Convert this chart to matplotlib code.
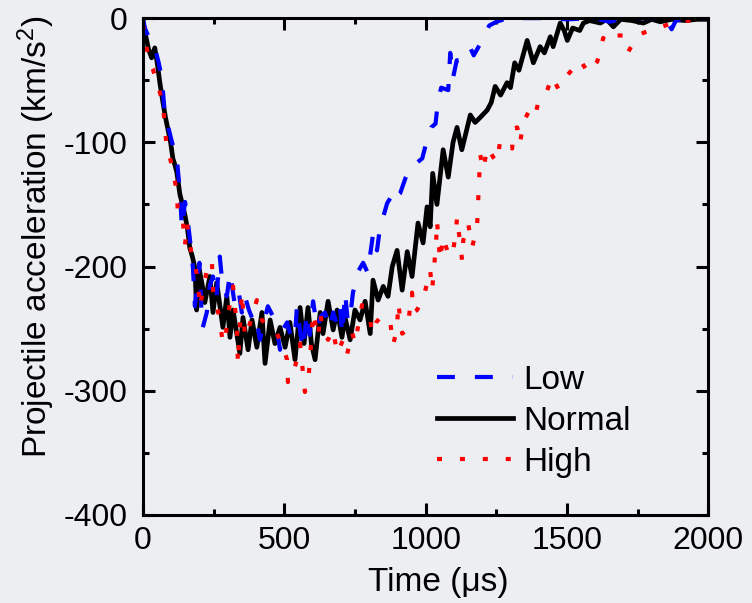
import matplotlib
matplotlib.use("Agg")
import matplotlib.pyplot as plt
from matplotlib.ticker import MultipleLocator

plt.rcParams['font.family'] = ['Liberation Sans', 'DejaVu Sans']
plt.rcParams['mathtext.fontset'] = 'custom'
plt.rcParams['mathtext.rm'] = 'Liberation Sans'
plt.rcParams['mathtext.default'] = 'regular'
plt.rcParams['axes.unicode_minus'] = False

# Normal charge
t_normal = [0, 7, 20, 31, 42, 50, 60, 71, 80, 89, 98, 106, 113, 120, 131, 140, 149, 158,
            166, 175, 184, 190, 200, 210, 219, 237, 248, 261, 283, 297, 308, 319, 343, 354,
            372, 386, 403, 421, 432, 450, 467, 485, 503, 520, 538, 556, 570, 584, 596, 609,
            627, 637, 655, 673, 687, 704, 715, 733, 750, 768, 786, 804, 814, 832, 850, 867,
            882, 899, 917, 935, 952, 973, 991, 1005, 1016, 1025, 1040, 1062, 1080, 1097, 1111,
            1128, 1158, 1175, 1193, 1218, 1232, 1246, 1265, 1288, 1300, 1315, 1330, 1359,
            1381, 1405, 1420, 1441, 1451, 1476, 1490, 1501, 1520, 1545, 1558, 1580, 1618,
            1640, 1664, 1690, 1730, 1770, 1800, 1830, 1870, 1920, 1960, 2000]
a_normal = [-2, -11, -25, -32, -24, -35, -52, -68, -80, -90, -100, -113, -118, -124, -142,
            -150, -159, -170, -185, -192, -201, -235, -203, -215, -229, -208, -237, -213,
            -249, -224, -257, -235, -270, -241, -267, -243, -265, -237, -278, -243, -262,
            -249, -265, -245, -275, -233, -262, -233, -262, -275, -237, -254, -228, -251,
            -235, -257, -241, -259, -235, -243, -228, -254, -211, -227, -216, -224, -200,
            -187, -219, -188, -208, -165, -181, -152, -168, -125, -150, -106, -128, -100,
            -88, -106, -78, -84, -80, -74, -68, -55, -62, -52, -56, -36, -42, -18, -36, -23,
            -28, -15, -23, -4, -10, -18, -8, -10, -4, -2, -4, -1, -7, -1, -2, -4, -1, -3, -1,
            -2, -1, -1]

# Low charge
t_low = [0, 7, 20, 42, 55, 67, 78, 90, 103, 120, 131, 138, 149, 156, 170, 177, 184, 193,
         200, 209, 212, 226, 237, 248, 260, 272, 280, 297, 308, 326, 340, 350, 361, 375, 389,
         400, 414, 428, 442, 460, 474, 485, 497, 510, 527, 538, 545, 555, 566, 580, 590, 602,
         616, 630, 644, 660, 673, 685, 697, 705, 715, 725, 733, 743, 761, 779, 795, 811, 814,
         828, 839, 850, 864, 875, 885, 900, 910, 930, 945, 960, 988, 1005, 1020, 1035, 1044,
         1055, 1080, 1087, 1097, 1110, 1130, 1158, 1170, 1200, 1225, 1250, 1290, 1400, 1500,
         1600, 1650, 1700, 1800, 1850, 1870, 1885, 1950, 2000]
a_low = [0, -8, -15, -24, -35, -48, -78, -88, -100, -113, -140, -169, -148, -158, -185, -201,
         -232, -210, -197, -245, -249, -237, -215, -208, -225, -192, -211, -224, -205, -232,
         -222, -237, -224, -235, -243, -240, -259, -245, -232, -240, -251, -267, -250, -245,
         -259, -255, -232, -250, -267, -237, -255, -228, -249, -240, -237, -250, -237, -245,
         -232, -255, -221, -245, -241, -221, -204, -197, -205, -179, -173, -187, -168, -160,
         -149, -145, -138, -143, -141, -128, -120, -118, -113, -98, -88, -85, -66, -56, -58,
         -28, -48, -34, -34, -24, -30, -18, -6, -3, 0, 0, -1, 0, -3, 0, 0, -1, -9, -2, 0, 0]

# High charge
t_high = [0, 10, 25, 35, 42, 55, 71, 85, 95, 106, 120, 124, 140, 149, 156, 173, 184, 195,
          202, 215, 230, 244, 248, 260, 272, 280, 290, 300, 319, 333, 336, 350, 361, 380, 403,
          421, 439, 457, 474, 496, 510, 513, 525, 538, 556, 573, 584, 591, 602, 620, 627, 637,
          655, 673, 687, 708, 722, 740, 750, 775, 793, 804, 811, 825, 839, 864, 874, 885, 899,
          903, 917, 935, 952, 956, 970, 998, 1016, 1023, 1037, 1040, 1051, 1062, 1076, 1094,
          1108, 1111, 1129, 1133, 1150, 1165, 1182, 1186, 1193, 1204, 1218, 1239, 1253, 1264,
          1288, 1306, 1310, 1324, 1334, 1345, 1370, 1388, 1398, 1430, 1448, 1469, 1501, 1547,
          1575, 1607, 1628, 1642, 1671, 1699, 1717, 1749, 1790, 1823, 1860, 1890, 1930, 1961,
          2000]
a_high = [-5, -20, -37, -41, -46, -55, -70, -106, -112, -122, -140, -158, -160, -183, -165,
          -192, -196, -214, -233, -215, -200, -195, -219, -230, -243, -257, -262, -240, -216,
          -251, -278, -221, -257, -245, -227, -243, -249, -251, -254, -265, -275, -293, -282,
          -281, -262, -301, -294, -275, -237, -257, -237, -251, -259, -251, -270, -259, -271,
          -253, -262, -231, -237, -243, -254, -245, -241, -241, -243, -263, -250, -229, -254,
          -251, -221, -237, -235, -220, -203, -219, -181, -163, -195, -176, -187, -192, -171,
          -160, -195, -179, -165, -184, -168, -146, -110, -122, -104, -112, -116, -98, -102,
          -105, -89, -88, -101, -84, -73, -78, -68, -58, -47, -57, -46, -34, -44, -35, -16,
          -20, -14, -14, -27, -14, -10, -8, -5, -3, -2, -4, -1]

bg = '#eceef1'
fig = plt.figure(figsize=(7.52, 6.03), dpi=100, facecolor=bg)
ax = fig.add_axes([0.190, 0.146, 0.752, 0.824])
ax.set_facecolor(bg)

ln_normal, = ax.plot(t_normal, a_normal, color='black', lw=3.4, label='Normal',
                     solid_joinstyle='round')
ln_low, = ax.plot(t_low, a_low, color='#0000ff', lw=3, linestyle=(0, (4.3, 4.8)),
                  dash_capstyle='butt', label='Low')
ln_high, = ax.plot(t_high, a_high, color='#ff0000', lw=3, linestyle=(0, (1.2, 4.3)),
                   dash_capstyle='butt', label='High')

ax.set_xlim(0, 2000)
ax.set_ylim(-400, 0)
ax.xaxis.set_major_locator(MultipleLocator(500))
ax.xaxis.set_minor_locator(MultipleLocator(250))
ax.yaxis.set_major_locator(MultipleLocator(100))
ax.yaxis.set_minor_locator(MultipleLocator(50))
ax.tick_params(which='both', direction='in', top=True, right=True, width=2.2,
               labelsize=23)
ax.tick_params(which='major', length=8.5)
ax.tick_params(which='minor', length=4)
ax.tick_params(axis='x', pad=8)
ax.tick_params(axis='y', pad=11)
for sp in ax.spines.values():
    sp.set_linewidth(2.2)

ax.set_xlabel('Time (μs)', fontsize=24)
ax.set_ylabel('Projectile acceleration (km/s$^2$)', fontsize=24)
ax.xaxis.set_label_coords(0.522, -0.105)
ax.yaxis.set_label_coords(-0.152, 0.56)

fig.legend(handles=[ln_low, ln_normal, ln_high], loc='upper left',
           bbox_to_anchor=(437 / 752, 1 - 365 / 603), frameon=False, fontsize=24,
           handlelength=2.27, handletextpad=0.33, labelspacing=0.3, borderpad=0,
           borderaxespad=0)

fig.savefig('out.png', dpi=100, facecolor=bg)
